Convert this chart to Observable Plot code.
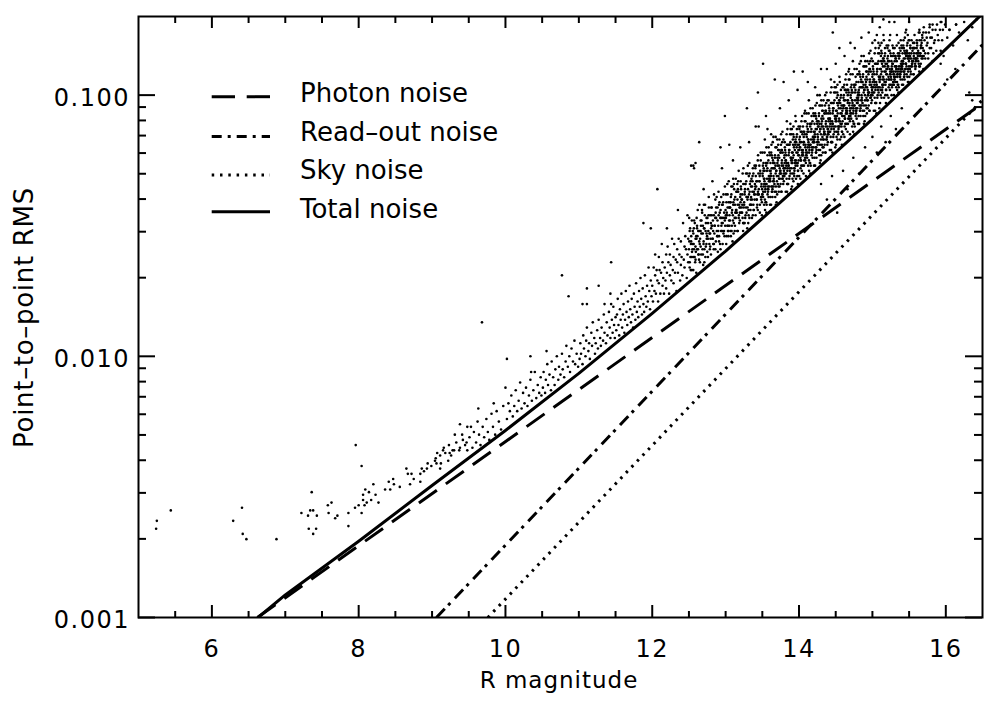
<!DOCTYPE html>
<html>
<head>
<meta charset="utf-8">
<script src="https://cdn.jsdelivr.net/npm/d3@7"></script>
<script src="https://cdn.jsdelivr.net/npm/@observablehq/plot@0.6"></script>
<style>
html,body{margin:0;padding:0;background:#fff;}
#chart{width:998px;height:704px;}
</style>
</head>
<body>
<div id="chart"></div>
<script>
// ---------- data ----------
const xMajorTicks = [6, 8, 10, 12, 14, 16];
const xMinorTicks = [5.5, 6.5, 7, 7.5, 8.5, 9, 9.5, 10.5, 11, 11.5, 12.5, 13, 13.5, 14.5, 15, 15.5];
const yMajorTicks = [0.001, 0.01, 0.1];
const yMajorLabels = ["0.001", "0.010", "0.100"];
const yMinorTicks = [0.002,0.003,0.004,0.005,0.006,0.007,0.008,0.009,0.02,0.03,0.04,0.05,0.06,0.07,0.08,0.09];

const photonMag = [6.62, 16.5];
const photonRms = [0.001, 0.093];
const readoutMag = [9.06, 16.5];
const readoutRms = [0.001, 0.156];
const skyMag = [9.76, 16.5];
const skyRms = [0.001, 0.096];
const totalMag = [6.63, 7, 8, 9, 10, 11, 12, 13, 14, 15, 16, 16.5];
const totalRms = [0.001, 0.00122, 0.00196, 0.0032, 0.0052, 0.0086, 0.0146, 0.0253, 0.045, 0.081, 0.150, 0.205];

const legendLabels = ["Photon noise", "Read\u2013out noise", "Sky noise", "Total noise"];

// stars: [R magnitude, log10(point-to-point RMS)]
const stars = [
[5.25,-2.63],[5.24,-2.66],[5.44,-2.59],[6.29,-2.63],[6.41,-2.58],[6.42,-2.68],[6.47,-2.7],[6.88,-2.7],
[7.22,-2.6],[7.31,-2.61],[7.34,-2.59],[7.38,-2.59],[7.36,-2.52],[7.43,-2.61],[7.32,-2.66],[7.42,-2.66],[7.38,-2.68],
[7.58,-2.57],[7.63,-2.56],[7.59,-2.6],[7.68,-2.62],[7.71,-2.61],[7.86,-2.6],[7.86,-2.65],[7.96,-2.34],[8.04,-2.42],
[7.95,-2.58],[8,-2.57],[8.04,-2.6],[8.09,-2.51],[8.06,-2.55],[8.14,-2.52],[8.08,-2.57],[8.06,-2.53],[8.11,-2.56],
[8.17,-2.55],[8.23,-2.53],[8.2,-2.49],[8.27,-2.56],[8.36,-2.51],[8.41,-2.48],[8.47,-2.47],[8.48,-2.49],[8.43,-2.51],
[8.56,-2.5],[8.65,-2.43],[8.67,-2.45],[8.72,-2.45],[8.75,-2.47],[8.7,-2.49],[8.84,-2.45],[8.86,-2.43],[8.89,-2.44],
[8.93,-2.43],[8.94,-2.41],[8.99,-2.42],[8.84,-2.48],[9.04,-2.4],[9.06,-2.41],[9.11,-2.43],[9.07,-2.37],[9.11,-2.38],
[9.15,-2.36],[9.16,-2.35],[9.23,-2.34],[9.24,-2.37],[9.28,-2.36],[9.26,-2.38],[9.31,-2.3],[9.3,-2.36],[9.38,-2.26],
[9.38,-2.35],[9.42,-2.32],[9.48,-2.27],[9.47,-2.33],[9.48,-2.36],
[9.05,-2.39],[9.12,-2.41],[9.18,-2.37],[9.22,-2.4],[9.33,-2.33],[9.37,-2.36],[9.41,-2.3],[9.45,-2.34],
[9.51,-2.31],[9.53,-2.27],[9.55,-2.35],[9.57,-2.29],[9.6,-2.33],[9.62,-2.25],[9.64,-2.3],[9.66,-2.34],[9.69,-2.27],[9.71,-2.31],
[9.74,-2.24],[9.76,-2.29],[9.78,-2.32],[9.81,-2.22],[9.83,-2.27],[9.86,-2.3],[9.88,-2.21],[9.91,-2.25],[9.94,-2.28],[9.97,-2.19],
[9.63,-2.2],[9.84,-2.18],[9.68,-1.87],[10,-2.12],[10.02,-2.01],
[10.02,-2.24],[10.04,-2.18],[10.06,-2.21],[10.08,-2.15],[10.1,-2.23],[10.12,-2.19],[10.14,-2.13],[10.16,-2.21],[10.18,-2.17],
[10.2,-2.1],[10.22,-2.2],[10.24,-2.14],[10.26,-2.18],[10.28,-2.12],[10.3,-2.19],[10.32,-2.15],[10.34,-2.09],[10.36,-2.17],
[10.38,-2.13],[10.4,-2.06],[10.42,-2.16],[10.44,-2.11],[10.46,-2.14],[10.48,-2.08],[10.49,-2.15],
[10.34,-2],[10.35,-2.06],[10.56,-1.98],
[10.51,-2.12],[10.52,-2.06],[10.54,-2.14],[10.55,-2.09],[10.57,-2.03],[10.58,-2.11],[10.6,-2.07],[10.62,-2.13],[10.63,-2.02],
[10.65,-2.08],[10.67,-2.11],[10.68,-2.05],[10.7,-2],[10.72,-2.09],[10.73,-2.04],[10.75,-2.07],[10.77,-1.99],[10.78,-2.05],
[10.8,-2.08],[10.82,-2.02],[10.83,-1.96],[10.85,-2.04],[10.87,-2],[10.88,-2.06],[10.9,-1.97],[10.92,-2.02],[10.94,-1.94],
[10.95,-2.03],[10.97,-1.99],[10.99,-2.04],
[10.77,-1.69],[10.86,-1.77],
[11.01,-2.01],[11.02,-1.95],[11.03,-1.99],[11.05,-2.03],[11.06,-1.92],[11.07,-1.97],[11.09,-2],[11.1,-1.94],[11.11,-1.89],
[11.13,-1.98],[11.14,-1.95],[11.15,-2.01],[11.17,-1.91],[11.18,-1.96],[11.19,-1.87],[11.21,-1.93],[11.22,-1.99],[11.23,-1.95],
[11.25,-1.9],[11.26,-1.97],[11.27,-1.86],[11.29,-1.93],[11.3,-1.96],[11.31,-1.89],[11.33,-1.94],[11.34,-1.84],[11.35,-1.91],
[11.37,-1.95],[11.38,-1.87],[11.39,-1.92],[11.41,-1.83],[11.42,-1.89],[11.43,-1.93],[11.45,-1.86],[11.46,-1.91],[11.47,-1.81],
[11.48,-1.88],[11.49,-1.93],[11.5,-1.85],[11.44,-1.8],
[11.05,-1.8],[11.11,-1.8],[11.11,-1.74],[11.27,-1.73],[11.44,-1.64],[11.43,-1.76],[11.35,-1.8],
[11.51,-1.9],[11.52,-1.84],[11.53,-1.78],[11.54,-1.88],[11.55,-1.92],[11.56,-1.82],[11.57,-1.86],[11.58,-1.76],[11.59,-1.89],
[11.6,-1.84],[11.61,-1.8],[11.62,-1.91],[11.63,-1.86],[11.64,-1.75],[11.65,-1.83],[11.66,-1.88],[11.67,-1.79],[11.68,-1.85],
[11.69,-1.73],[11.7,-1.82],[11.71,-1.87],[11.72,-1.78],[11.73,-1.84],[11.74,-1.89],[11.75,-1.76],[11.76,-1.81],[11.77,-1.86],
[11.78,-1.72],[11.79,-1.83],[11.8,-1.79],[11.81,-1.85],[11.82,-1.75],[11.83,-1.81],[11.84,-1.7],[11.85,-1.78],[11.86,-1.84],
[11.87,-1.74],[11.88,-1.8],[11.89,-1.83],[11.9,-1.69],[11.91,-1.77],[11.92,-1.81],[11.93,-1.73],[11.94,-1.79],[11.95,-1.66],
[11.96,-1.75],[11.97,-1.82],[11.98,-1.71],[11.99,-1.77],
[11.88,-1.49],[11.98,-1.51],
[12,-1.73],[12.01,-1.79],[12.02,-1.66],[12.03,-1.75],[12.04,-1.69],[12.04,-1.61],[12.05,-1.76],[12.06,-1.67],[12.07,-1.71],
[12.08,-1.79],[12.09,-1.62],[12.09,-1.72],[12.1,-1.67],[12.11,-1.76],[12.12,-1.68],[12.13,-1.57],[12.14,-1.73],[12.14,-1.64],
[12.15,-1.7],[12.16,-1.76],[12.17,-1.66],[12.18,-1.71],[12.19,-1.61],[12.19,-1.74],[12.2,-1.68],[12.21,-1.58],[12.22,-1.64],
[12.23,-1.76],[12.24,-1.69],[12.24,-1.61],[12.25,-1.65],[12.26,-1.71],[12.27,-1.55],[12.28,-1.67],[12.29,-1.62],[12.29,-1.72],
[12.3,-1.57],[12.31,-1.68],[12.32,-1.63],[12.33,-1.75],[12.34,-1.59],[12.34,-1.64],[12.35,-1.68],[12.36,-1.55],[12.37,-1.61],
[12.38,-1.71],[12.39,-1.65],[12.39,-1.56],[12.4,-1.62],[12.41,-1.69],[12.42,-1.49],[12.43,-1.63],[12.44,-1.58],[12.44,-1.66],
[12.45,-1.54],[12.46,-1.59],[12.47,-1.7],[12.48,-1.61],[12.49,-1.55],[12.49,-1.64],
[12.07,-1.36],[12.2,-1.51],[12.35,-1.44],[12.48,-1.46],[12.53,-1.27],[12.59,-1.26],[12.57,-1.28],
[12.5,-1.59],[12.51,-1.66],[12.51,-1.52],[12.52,-1.62],[12.53,-1.56],[12.54,-1.48],[12.54,-1.67],[12.55,-1.57],[12.56,-1.62],
[12.56,-1.53],[12.57,-1.59],[12.58,-1.49],[12.59,-1.63],[12.59,-1.55],[12.6,-1.68],[12.61,-1.51],[12.61,-1.59],[12.62,-1.44],
[12.63,-1.61],[12.64,-1.52],[12.64,-1.56],[12.65,-1.64],[12.66,-1.48],[12.66,-1.58],[12.67,-1.53],[12.68,-1.45],[12.69,-1.61],
[12.69,-1.5],[12.7,-1.56],[12.71,-1.64],[12.71,-1.51],[12.72,-1.42],[12.73,-1.58],[12.74,-1.53],[12.74,-1.47],[12.75,-1.6],
[12.76,-1.55],[12.76,-1.49],[12.77,-1.39],[12.78,-1.53],[12.79,-1.58],[12.79,-1.46],[12.8,-1.61],[12.81,-1.5],[12.81,-1.43],
[12.82,-1.55],[12.83,-1.52],[12.84,-1.46],[12.84,-1.57],[12.85,-1.5],[12.86,-1.4],[12.86,-1.59],[12.87,-1.47],[12.88,-1.52],
[12.89,-1.43],[12.89,-1.54],[12.9,-1.5],[12.91,-1.42],[12.91,-1.56],[12.92,-1.45],[12.93,-1.59],[12.94,-1.47],[12.94,-1.39],
[12.95,-1.52],[12.96,-1.42],[12.96,-1.49],[12.97,-1.53],[12.98,-1.45],[12.99,-1.35],[12.99,-1.47],
[12.524,-1.67],[12.505,-1.56],[12.538,-1.62],[12.516,-1.51],[12.547,-1.59],[12.511,-1.64],[12.531,-1.54],[12.542,-1.6],[12.503,-1.47],[12.527,-1.57],
[12.564,-1.57],[12.585,-1.64],[12.552,-1.52],[12.594,-1.6],[12.571,-1.48],[12.559,-1.67],[12.599,-1.54],[12.578,-1.62],[12.567,-1.51],[12.589,-1.58],
[12.624,-1.59],[12.605,-1.47],[12.638,-1.63],[12.616,-1.54],[12.647,-1.57],[12.611,-1.5],[12.631,-1.61],[12.642,-1.42],[12.603,-1.55],[12.627,-1.52],
[12.664,-1.5],[12.685,-1.59],[12.652,-1.55],[12.694,-1.65],[12.671,-1.48],[12.659,-1.52],[12.699,-1.57],[12.678,-1.44],[12.667,-1.61],[12.689,-1.53],
[12.724,-1.62],[12.705,-1.51],[12.738,-1.57],[12.716,-1.46],[12.747,-1.54],[12.711,-1.59],[12.731,-1.49],[12.742,-1.55],[12.703,-1.42],[12.727,-1.52],
[12.764,-1.52],[12.785,-1.59],[12.752,-1.47],[12.794,-1.55],[12.771,-1.43],[12.759,-1.62],[12.799,-1.49],[12.778,-1.57],[12.767,-1.46],[12.789,-1.53],
[12.824,-1.55],[12.805,-1.43],[12.838,-1.59],[12.816,-1.5],[12.847,-1.53],[12.811,-1.46],[12.831,-1.57],[12.842,-1.38],[12.803,-1.51],[12.827,-1.48],
[12.864,-1.45],[12.885,-1.54],[12.852,-1.5],[12.894,-1.6],[12.871,-1.43],[12.859,-1.47],[12.899,-1.52],[12.878,-1.39],[12.867,-1.56],[12.889,-1.48],
[12.924,-1.57],[12.905,-1.46],[12.938,-1.52],[12.916,-1.41],[12.947,-1.49],[12.911,-1.54],[12.931,-1.44],[12.942,-1.5],[12.903,-1.37],[12.927,-1.47],
[12.964,-1.47],[12.985,-1.54],[12.952,-1.42],[12.994,-1.5],[12.971,-1.38],[12.959,-1.57],[12.999,-1.44],[12.978,-1.52],[12.967,-1.41],[12.989,-1.48],
[13.004,-1.47],[13.013,-1.54],[13.027,-1.38],[13.032,-1.5],[13.046,-1.43],[13.008,-1.57],[13.019,-1.46],[13.023,-1.34],[13.038,-1.52],[13.041,-1.41],
[13.052,-1.5],[13.066,-1.41],[13.071,-1.54],[13.085,-1.45],[13.094,-1.35],[13.059,-1.48],[13.061,-1.43],[13.078,-1.38],[13.081,-1.52],[13.098,-1.46],
[13.104,-1.42],[13.113,-1.34],[13.127,-1.5],[13.132,-1.45],[13.146,-1.37],[13.108,-1.53],[13.119,-1.4],[13.123,-1.47],[13.138,-1.32],[13.141,-1.44],
[13.152,-1.45],[13.166,-1.52],[13.171,-1.37],[13.185,-1.42],[13.194,-1.48],[13.159,-1.34],[13.161,-1.4],[13.178,-1.29],[13.181,-1.46],[13.198,-1.43],
[13.204,-1.38],[13.213,-1.45],[13.227,-1.42],[13.232,-1.3],[13.246,-1.49],[13.208,-1.35],[13.219,-1.43],[13.223,-1.4],[13.238,-1.52],[13.241,-1.34],
[13.252,-1.42],[13.266,-1.34],[13.271,-1.46],[13.285,-1.39],[13.294,-1.3],[13.259,-1.49],[13.261,-1.37],[13.278,-1.43],[13.281,-1.33],[13.298,-1.4],
[13.304,-1.39],[13.313,-1.46],[13.327,-1.3],[13.332,-1.42],[13.346,-1.35],[13.308,-1.49],[13.319,-1.38],[13.323,-1.26],[13.338,-1.44],[13.341,-1.33],
[13.352,-1.42],[13.366,-1.33],[13.371,-1.46],[13.385,-1.37],[13.394,-1.27],[13.359,-1.4],[13.361,-1.35],[13.378,-1.3],[13.381,-1.44],[13.398,-1.38],
[13.404,-1.35],[13.413,-1.27],[13.427,-1.43],[13.432,-1.38],[13.446,-1.3],[13.408,-1.46],[13.419,-1.33],[13.423,-1.4],[13.438,-1.25],[13.441,-1.37],
[13.452,-1.38],[13.466,-1.45],[13.471,-1.3],[13.485,-1.35],[13.494,-1.41],[13.459,-1.27],[13.461,-1.33],[13.478,-1.22],[13.481,-1.39],[13.498,-1.36],
[13.024,-1.5],[13.005,-1.38],[13.038,-1.54],[13.016,-1.45],[13.047,-1.48],[13.011,-1.41],[13.031,-1.52],[13.042,-1.33],[13.003,-1.46],[13.027,-1.43],
[13.064,-1.41],[13.085,-1.5],[13.052,-1.46],[13.094,-1.56],[13.071,-1.39],[13.059,-1.43],[13.099,-1.48],[13.078,-1.35],[13.067,-1.52],[13.089,-1.44],
[13.124,-1.52],[13.105,-1.41],[13.138,-1.47],[13.116,-1.36],[13.147,-1.44],[13.111,-1.49],[13.131,-1.39],[13.142,-1.45],[13.103,-1.32],[13.127,-1.42],
[13.164,-1.42],[13.185,-1.49],[13.152,-1.37],[13.194,-1.45],[13.171,-1.33],[13.159,-1.52],[13.199,-1.39],[13.178,-1.47],[13.167,-1.36],[13.189,-1.43],
[13.224,-1.45],[13.205,-1.33],[13.238,-1.49],[13.216,-1.4],[13.247,-1.43],[13.211,-1.36],[13.231,-1.47],[13.242,-1.28],[13.203,-1.41],[13.227,-1.38],
[13.264,-1.36],[13.285,-1.45],[13.252,-1.41],[13.294,-1.51],[13.271,-1.34],[13.259,-1.38],[13.299,-1.43],[13.278,-1.3],[13.267,-1.47],[13.289,-1.39],
[13.324,-1.47],[13.305,-1.36],[13.338,-1.42],[13.316,-1.31],[13.347,-1.39],[13.311,-1.44],[13.331,-1.34],[13.342,-1.4],[13.303,-1.27],[13.327,-1.37],
[13.364,-1.37],[13.385,-1.44],[13.352,-1.32],[13.394,-1.4],[13.371,-1.28],[13.359,-1.47],[13.399,-1.34],[13.378,-1.42],[13.367,-1.31],[13.389,-1.38],
[13.424,-1.4],[13.405,-1.28],[13.438,-1.44],[13.416,-1.35],[13.447,-1.38],[13.411,-1.31],[13.431,-1.42],[13.442,-1.23],[13.403,-1.36],[13.427,-1.33],
[13.464,-1.31],[13.485,-1.4],[13.452,-1.36],[13.494,-1.46],[13.471,-1.29],[13.459,-1.33],[13.499,-1.38],[13.478,-1.25],[13.467,-1.42],[13.489,-1.34],
[13.503,-1.3],[13.512,-1.37],[13.526,-1.34],[13.531,-1.22],[13.544,-1.41],[13.507,-1.27],[13.518,-1.35],[13.522,-1.32],[13.537,-1.44],[13.548,-1.26],[13.501,-1.38],[13.515,-1.29],[13.529,-1.33],[13.534,-1.17],[13.541,-1.36],
[13.558,-1.34],[13.566,-1.26],[13.571,-1.38],[13.589,-1.31],[13.596,-1.22],[13.552,-1.41],[13.563,-1.29],[13.577,-1.35],[13.583,-1.25],[13.592,-1.32],[13.555,-1.45],[13.569,-1.28],[13.574,-1.36],[13.586,-1.2],[13.599,-1.33],
[13.606,-1.32],[13.611,-1.39],[13.628,-1.23],[13.635,-1.35],[13.643,-1.28],[13.604,-1.42],[13.617,-1.31],[13.624,-1.19],[13.632,-1.37],[13.647,-1.26],[13.609,-1.33],[13.614,-1.29],[13.621,-1.22],[13.638,-1.36],[13.645,-1.25],
[13.653,-1.35],[13.662,-1.26],[13.676,-1.39],[13.681,-1.3],[13.694,-1.2],[13.657,-1.33],[13.668,-1.28],[13.672,-1.23],[13.687,-1.37],[13.698,-1.31],[13.651,-1.16],[13.665,-1.34],[13.679,-1.27],[13.684,-1.42],[13.691,-1.29],
[13.708,-1.27],[13.716,-1.19],[13.721,-1.35],[13.739,-1.3],[13.746,-1.22],[13.702,-1.38],[13.713,-1.25],[13.727,-1.32],[13.733,-1.17],[13.742,-1.29],[13.705,-1.24],[13.719,-1.31],[13.724,-1.21],[13.736,-1.28],[13.749,-1.34],
[13.756,-1.3],[13.761,-1.37],[13.778,-1.22],[13.785,-1.27],[13.793,-1.33],[13.754,-1.19],[13.767,-1.25],[13.774,-1.14],[13.782,-1.31],[13.797,-1.28],[13.759,-1.21],[13.764,-1.26],[13.771,-1.32],[13.788,-1.17],[13.795,-1.29],
[13.803,-1.23],[13.812,-1.3],[13.826,-1.27],[13.831,-1.15],[13.844,-1.34],[13.807,-1.2],[13.818,-1.28],[13.822,-1.25],[13.837,-1.37],[13.848,-1.19],[13.801,-1.31],[13.815,-1.22],[13.829,-1.26],[13.834,-1.1],[13.841,-1.29],
[13.858,-1.27],[13.866,-1.19],[13.871,-1.31],[13.889,-1.24],[13.896,-1.15],[13.852,-1.34],[13.863,-1.22],[13.877,-1.28],[13.883,-1.18],[13.892,-1.25],[13.855,-1.38],[13.869,-1.21],[13.874,-1.29],[13.886,-1.13],[13.899,-1.26],
[13.906,-1.25],[13.911,-1.32],[13.928,-1.16],[13.935,-1.28],[13.943,-1.21],[13.904,-1.35],[13.917,-1.24],[13.924,-1.12],[13.932,-1.3],[13.947,-1.19],[13.909,-1.26],[13.914,-1.22],[13.921,-1.15],[13.938,-1.29],[13.945,-1.18],
[13.953,-1.27],[13.962,-1.18],[13.976,-1.31],[13.981,-1.22],[13.994,-1.12],[13.957,-1.25],[13.968,-1.2],[13.972,-1.15],[13.987,-1.29],[13.998,-1.23],[13.951,-1.08],[13.965,-1.26],[13.979,-1.19],[13.984,-1.34],[13.991,-1.21],
[14.008,-1.2],[14.016,-1.12],[14.021,-1.28],[14.039,-1.23],[14.046,-1.15],[14.002,-1.31],[14.013,-1.18],[14.027,-1.25],[14.033,-1.1],[14.042,-1.22],[14.005,-1.17],[14.019,-1.24],[14.024,-1.14],[14.036,-1.21],[14.049,-1.27],
[14.056,-1.23],[14.061,-1.3],[14.078,-1.15],[14.085,-1.2],[14.093,-1.26],[14.054,-1.12],[14.067,-1.18],[14.074,-1.07],[14.082,-1.24],[14.097,-1.21],[14.059,-1.14],[14.064,-1.19],[14.071,-1.25],[14.088,-1.1],[14.095,-1.22],
[14.103,-1.15],[14.112,-1.22],[14.126,-1.19],[14.131,-1.07],[14.144,-1.26],[14.107,-1.12],[14.118,-1.2],[14.122,-1.17],[14.137,-1.29],[14.148,-1.11],[14.101,-1.23],[14.115,-1.14],[14.129,-1.18],[14.134,-1.02],[14.141,-1.21],
[14.158,-1.19],[14.166,-1.11],[14.171,-1.23],[14.189,-1.16],[14.196,-1.07],[14.152,-1.26],[14.163,-1.14],[14.177,-1.2],[14.183,-1.1],[14.192,-1.17],[14.155,-1.3],[14.169,-1.13],[14.174,-1.21],[14.186,-1.05],[14.199,-1.18],
[14.206,-1.17],[14.211,-1.24],[14.228,-1.08],[14.235,-1.2],[14.243,-1.13],[14.204,-1.27],[14.217,-1.16],[14.224,-1.04],[14.232,-1.22],[14.247,-1.11],[14.209,-1.18],[14.214,-1.14],[14.221,-1.07],[14.238,-1.21],[14.245,-1.1],
[14.253,-1.19],[14.262,-1.1],[14.276,-1.23],[14.281,-1.14],[14.294,-1.04],[14.257,-1.17],[14.268,-1.12],[14.272,-1.07],[14.287,-1.21],[14.298,-1.15],[14.251,-1],[14.265,-1.18],[14.279,-1.11],[14.284,-1.26],[14.291,-1.13],
[14.308,-1.12],[14.316,-1.04],[14.321,-1.2],[14.339,-1.15],[14.346,-1.07],[14.302,-1.23],[14.313,-1.1],[14.327,-1.17],[14.333,-1.02],[14.342,-1.14],[14.305,-1.09],[14.319,-1.16],[14.324,-1.06],[14.336,-1.13],[14.349,-1.19],
[14.356,-1.15],[14.361,-1.22],[14.378,-1.07],[14.385,-1.12],[14.393,-1.18],[14.354,-1.04],[14.367,-1.1],[14.374,-0.99],[14.382,-1.16],[14.397,-1.13],[14.359,-1.06],[14.364,-1.11],[14.371,-1.17],[14.388,-1.02],[14.395,-1.14],
[14.403,-1.07],[14.412,-1.14],[14.426,-1.11],[14.431,-0.99],[14.444,-1.18],[14.407,-1.04],[14.418,-1.12],[14.422,-1.09],[14.437,-1.21],[14.448,-1.03],[14.401,-1.15],[14.415,-1.06],[14.429,-1.1],[14.434,-0.94],[14.441,-1.13],
[14.458,-1.11],[14.466,-1.03],[14.471,-1.15],[14.489,-1.08],[14.496,-0.99],[14.452,-1.18],[14.463,-1.06],[14.477,-1.12],[14.483,-1.02],[14.492,-1.09],[14.455,-1.22],[14.469,-1.05],[14.474,-1.13],[14.486,-0.97],[14.499,-1.1],
[14.506,-1.09],[14.511,-1.16],[14.528,-1],[14.535,-1.12],[14.543,-1.05],[14.504,-1.19],[14.517,-1.08],[14.524,-0.96],[14.532,-1.14],[14.547,-1.03],[14.509,-1.1],[14.514,-1.06],[14.521,-0.99],[14.538,-1.13],[14.545,-1.02],
[14.553,-1.12],[14.562,-1.03],[14.576,-1.16],[14.581,-1.07],[14.594,-0.97],[14.557,-1.1],[14.568,-1.05],[14.572,-1],[14.587,-1.14],[14.598,-1.08],[14.551,-0.93],[14.565,-1.11],[14.579,-1.04],[14.584,-1.19],[14.591,-1.06],
[14.608,-1.04],[14.616,-0.96],[14.621,-1.12],[14.639,-1.07],[14.646,-0.99],[14.602,-1.15],[14.613,-1.02],[14.627,-1.09],[14.633,-0.94],[14.642,-1.06],[14.605,-1.01],[14.619,-1.08],[14.624,-0.98],[14.636,-1.05],[14.649,-1.11],
[14.656,-1.07],[14.661,-1.14],[14.678,-0.99],[14.685,-1.04],[14.693,-1.1],[14.654,-0.96],[14.667,-1.02],[14.674,-0.91],[14.682,-1.08],[14.697,-1.05],[14.659,-0.98],[14.664,-1.03],[14.671,-1.09],[14.688,-0.94],[14.695,-1.06],
[14.703,-1],[14.712,-1.07],[14.726,-1.04],[14.731,-0.92],[14.744,-1.11],[14.707,-0.97],[14.718,-1.05],[14.722,-1.02],[14.737,-1.14],[14.748,-0.96],[14.701,-1.08],[14.715,-0.99],[14.729,-1.03],[14.734,-0.87],[14.741,-1.06],
[14.758,-1.04],[14.766,-0.96],[14.771,-1.08],[14.789,-1.01],[14.796,-0.92],[14.752,-1.11],[14.763,-0.99],[14.777,-1.05],[14.783,-0.95],[14.792,-1.02],[14.755,-1.15],[14.769,-0.98],[14.774,-1.06],[14.786,-0.9],[14.799,-1.03],
[14.806,-1.01],[14.811,-1.08],[14.828,-0.92],[14.835,-1.04],[14.843,-0.97],[14.804,-1.11],[14.817,-1],[14.824,-0.88],[14.832,-1.06],[14.847,-0.95],[14.809,-1.02],[14.814,-0.98],[14.821,-0.91],[14.838,-1.05],[14.845,-0.94],
[14.853,-1.04],[14.862,-0.95],[14.876,-1.08],[14.881,-0.99],[14.894,-0.89],[14.857,-1.02],[14.868,-0.97],[14.872,-0.92],[14.887,-1.06],[14.898,-1],[14.851,-0.85],[14.865,-1.03],[14.879,-0.96],[14.884,-1.11],[14.891,-0.98],
[14.908,-0.97],[14.916,-0.89],[14.921,-1.05],[14.939,-1],[14.946,-0.92],[14.902,-1.08],[14.913,-0.95],[14.927,-1.02],[14.933,-0.87],[14.942,-0.99],[14.905,-0.94],[14.919,-1.01],[14.924,-0.91],[14.936,-0.98],[14.949,-1.04],
[14.956,-0.99],[14.961,-1.06],[14.978,-0.91],[14.985,-0.96],[14.993,-1.02],[14.954,-0.88],[14.967,-0.94],[14.974,-0.83],[14.982,-1],[14.997,-0.97],[14.959,-0.9],[14.964,-0.95],[14.971,-1.01],[14.988,-0.86],[14.995,-0.98],
[15.003,-0.92],[15.012,-0.99],[15.026,-0.96],[15.031,-0.84],[15.044,-1.03],[15.007,-0.89],[15.018,-0.97],[15.022,-0.94],[15.037,-1.06],[15.048,-0.88],[15.001,-1],[15.015,-0.91],[15.029,-0.95],[15.034,-0.79],[15.041,-0.98],
[15.058,-0.96],[15.066,-0.88],[15.071,-1],[15.089,-0.93],[15.096,-0.84],[15.052,-1.03],[15.063,-0.91],[15.077,-0.97],[15.083,-0.87],[15.092,-0.94],[15.055,-1.07],[15.069,-0.9],[15.074,-0.98],[15.086,-0.82],[15.099,-0.95],
[15.106,-0.93],[15.111,-1],[15.128,-0.84],[15.135,-0.96],[15.143,-0.89],[15.104,-1.03],[15.117,-0.92],[15.124,-0.8],[15.132,-0.98],[15.147,-0.87],[15.109,-0.94],[15.114,-0.9],[15.121,-0.83],[15.138,-0.97],[15.145,-0.86],
[15.153,-0.96],[15.162,-0.87],[15.176,-1],[15.181,-0.91],[15.194,-0.81],[15.157,-0.94],[15.168,-0.89],[15.172,-0.84],[15.187,-0.98],[15.198,-0.92],[15.151,-0.77],[15.165,-0.95],[15.179,-0.88],[15.184,-1.03],[15.191,-0.9],
[15.208,-0.89],[15.216,-0.81],[15.221,-0.97],[15.239,-0.92],[15.246,-0.84],[15.202,-1],[15.213,-0.87],[15.227,-0.94],[15.233,-0.79],[15.242,-0.91],[15.205,-0.86],[15.219,-0.93],[15.224,-0.83],[15.236,-0.9],[15.249,-0.96],
[15.256,-0.94],[15.261,-1],[15.278,-0.88],[15.285,-0.92],[15.293,-0.96],[15.254,-0.85],[15.267,-0.9],[15.274,-0.81],[15.282,-0.95],[15.297,-0.92],[15.259,-0.87],[15.264,-0.91],[15.271,-0.96],[15.288,-0.84],[15.295,-0.93],
[15.303,-0.87],[15.312,-0.93],[15.326,-0.9],[15.331,-0.81],[15.344,-0.96],[15.307,-0.85],[15.318,-0.91],[15.322,-0.89],[15.337,-0.98],[15.348,-0.84],[15.301,-0.94],[15.315,-0.86],[15.329,-0.9],[15.334,-0.77],[15.341,-0.92],
[15.358,-0.9],[15.366,-0.84],[15.371,-0.93],[15.389,-0.88],[15.396,-0.81],[15.352,-0.96],[15.363,-0.86],[15.377,-0.91],[15.383,-0.83],[15.392,-0.89],[15.355,-0.99],[15.369,-0.85],[15.374,-0.92],[15.386,-0.79],[15.399,-0.89],
[15.406,-0.89],[15.411,-0.94],[15.428,-0.82],[15.435,-0.91],[15.443,-0.86],[15.404,-0.96],[15.417,-0.88],[15.424,-0.79],[15.432,-0.93],[15.447,-0.84],[15.409,-0.9],[15.414,-0.87],[15.421,-0.81],[15.438,-0.92],[15.445,-0.84],
[15.453,-0.9],[15.462,-0.83],[15.476,-0.93],[15.481,-0.86],[15.494,-0.79],[15.457,-0.88],[15.468,-0.85],[15.472,-0.81],[15.487,-0.91],[15.498,-0.87],[15.451,-0.76],[15.465,-0.89],[15.479,-0.84],[15.484,-0.95],[15.491,-0.85],
[13.524,-1.42],[13.505,-1.31],[13.538,-1.37],[13.516,-1.26],[13.547,-1.34],[13.511,-1.39],[13.531,-1.29],[13.542,-1.35],[13.503,-1.22],[13.527,-1.32],[13.519,-1.28],[13.535,-1.4],
[13.564,-1.32],[13.585,-1.39],[13.552,-1.27],[13.594,-1.35],[13.571,-1.23],[13.559,-1.42],[13.599,-1.29],[13.578,-1.37],[13.567,-1.26],[13.589,-1.33],[13.556,-1.2],[13.582,-1.36],
[13.624,-1.35],[13.605,-1.23],[13.638,-1.39],[13.616,-1.3],[13.647,-1.33],[13.611,-1.26],[13.631,-1.37],[13.642,-1.18],[13.603,-1.31],[13.627,-1.28],[13.619,-1.42],[13.635,-1.24],
[13.664,-1.26],[13.685,-1.35],[13.652,-1.31],[13.694,-1.41],[13.671,-1.24],[13.659,-1.28],[13.699,-1.33],[13.678,-1.2],[13.667,-1.37],[13.689,-1.29],[13.656,-1.32],[13.682,-1.16],
[13.724,-1.37],[13.705,-1.26],[13.738,-1.32],[13.716,-1.21],[13.747,-1.29],[13.711,-1.34],[13.731,-1.24],[13.742,-1.3],[13.703,-1.17],[13.727,-1.27],[13.719,-1.23],[13.735,-1.35],
[13.764,-1.27],[13.785,-1.34],[13.752,-1.22],[13.794,-1.3],[13.771,-1.18],[13.759,-1.37],[13.799,-1.24],[13.778,-1.32],[13.767,-1.21],[13.789,-1.28],[13.756,-1.15],[13.782,-1.31],
[13.824,-1.3],[13.805,-1.18],[13.838,-1.34],[13.816,-1.25],[13.847,-1.28],[13.811,-1.21],[13.831,-1.32],[13.842,-1.13],[13.803,-1.26],[13.827,-1.23],[13.819,-1.37],[13.835,-1.19],
[13.864,-1.21],[13.885,-1.3],[13.852,-1.26],[13.894,-1.36],[13.871,-1.19],[13.859,-1.23],[13.899,-1.28],[13.878,-1.15],[13.867,-1.32],[13.889,-1.24],[13.856,-1.27],[13.882,-1.11],
[13.924,-1.33],[13.905,-1.22],[13.938,-1.28],[13.916,-1.17],[13.947,-1.25],[13.911,-1.3],[13.931,-1.2],[13.942,-1.26],[13.903,-1.13],[13.927,-1.23],[13.919,-1.19],[13.935,-1.31],
[13.964,-1.22],[13.985,-1.29],[13.952,-1.17],[13.994,-1.25],[13.971,-1.13],[13.959,-1.32],[13.999,-1.19],[13.978,-1.27],[13.967,-1.16],[13.989,-1.23],[13.956,-1.1],[13.982,-1.26],
[14.024,-1.25],[14.005,-1.13],[14.038,-1.29],[14.016,-1.2],[14.047,-1.23],[14.011,-1.16],[14.031,-1.27],[14.042,-1.08],[14.003,-1.21],[14.027,-1.18],[14.019,-1.32],[14.035,-1.14],
[14.064,-1.16],[14.085,-1.25],[14.052,-1.21],[14.094,-1.31],[14.071,-1.14],[14.059,-1.18],[14.099,-1.23],[14.078,-1.1],[14.067,-1.27],[14.089,-1.19],[14.056,-1.22],[14.082,-1.06],
[14.124,-1.27],[14.105,-1.16],[14.138,-1.22],[14.116,-1.11],[14.147,-1.19],[14.111,-1.24],[14.131,-1.14],[14.142,-1.2],[14.103,-1.07],[14.127,-1.17],[14.119,-1.13],[14.135,-1.25],
[14.164,-1.17],[14.185,-1.24],[14.152,-1.12],[14.194,-1.2],[14.171,-1.08],[14.159,-1.27],[14.199,-1.14],[14.178,-1.22],[14.167,-1.11],[14.189,-1.18],[14.156,-1.05],[14.182,-1.21],
[14.224,-1.2],[14.205,-1.08],[14.238,-1.24],[14.216,-1.15],[14.247,-1.18],[14.211,-1.11],[14.231,-1.22],[14.242,-1.03],[14.203,-1.16],[14.227,-1.13],[14.219,-1.27],[14.235,-1.09],
[14.264,-1.1],[14.285,-1.19],[14.252,-1.15],[14.294,-1.25],[14.271,-1.08],[14.259,-1.12],[14.299,-1.17],[14.278,-1.04],[14.267,-1.21],[14.289,-1.13],[14.256,-1.16],[14.282,-1],
[14.324,-1.22],[14.305,-1.11],[14.338,-1.17],[14.316,-1.06],[14.347,-1.14],[14.311,-1.19],[14.331,-1.09],[14.342,-1.15],[14.303,-1.02],[14.327,-1.12],[14.319,-1.08],[14.335,-1.2],
[14.364,-1.12],[14.385,-1.19],[14.352,-1.07],[14.394,-1.15],[14.371,-1.03],[14.359,-1.22],[14.399,-1.09],[14.378,-1.17],[14.367,-1.06],[14.389,-1.13],[14.356,-1],[14.382,-1.16],
[14.424,-1.14],[14.405,-1.02],[14.438,-1.18],[14.416,-1.09],[14.447,-1.12],[14.411,-1.05],[14.431,-1.16],[14.442,-0.97],[14.403,-1.1],[14.427,-1.07],[14.419,-1.21],[14.435,-1.03],
[14.464,-1.05],[14.485,-1.14],[14.452,-1.1],[14.494,-1.2],[14.471,-1.03],[14.459,-1.07],[14.499,-1.12],[14.478,-0.99],[14.467,-1.16],[14.489,-1.08],[14.456,-1.11],[14.482,-0.95],
[14.524,-1.17],[14.505,-1.06],[14.538,-1.12],[14.516,-1.01],[14.547,-1.09],[14.511,-1.14],[14.531,-1.04],[14.542,-1.1],[14.503,-0.97],[14.527,-1.07],[14.519,-1.03],[14.535,-1.15],
[14.564,-1.07],[14.585,-1.14],[14.552,-1.02],[14.594,-1.1],[14.571,-0.98],[14.559,-1.17],[14.599,-1.04],[14.578,-1.12],[14.567,-1.01],[14.589,-1.08],[14.556,-0.95],[14.582,-1.11],
[14.624,-1.09],[14.605,-0.97],[14.638,-1.13],[14.616,-1.04],[14.647,-1.07],[14.611,-1],[14.631,-1.11],[14.642,-0.92],[14.603,-1.05],[14.627,-1.02],[14.619,-1.16],[14.635,-0.98],
[14.664,-1],[14.685,-1.09],[14.652,-1.05],[14.694,-1.15],[14.671,-0.98],[14.659,-1.02],[14.699,-1.07],[14.678,-0.94],[14.667,-1.11],[14.689,-1.03],[14.656,-1.06],[14.682,-0.9],
[14.724,-1.12],[14.705,-1.01],[14.738,-1.07],[14.716,-0.96],[14.747,-1.04],[14.711,-1.09],[14.731,-0.99],[14.742,-1.05],[14.703,-0.92],[14.727,-1.02],[14.719,-0.98],[14.735,-1.1],
[14.764,-1.02],[14.785,-1.09],[14.752,-0.97],[14.794,-1.05],[14.771,-0.93],[14.759,-1.12],[14.799,-0.99],[14.778,-1.07],[14.767,-0.96],[14.789,-1.03],[14.756,-0.9],[14.782,-1.06],
[14.824,-1.04],[14.805,-0.92],[14.838,-1.08],[14.816,-0.99],[14.847,-1.02],[14.811,-0.95],[14.831,-1.06],[14.842,-0.87],[14.803,-1],[14.827,-0.97],[14.819,-1.11],[14.835,-0.93],
[14.864,-0.95],[14.885,-1.04],[14.852,-1],[14.894,-1.1],[14.871,-0.93],[14.859,-0.97],[14.899,-1.02],[14.878,-0.89],[14.867,-1.06],[14.889,-0.98],[14.856,-1.01],[14.882,-0.85],
[14.924,-1.07],[14.905,-0.96],[14.938,-1.02],[14.916,-0.91],[14.947,-0.99],[14.911,-1.04],[14.931,-0.94],[14.942,-1],[14.903,-0.87],[14.927,-0.97],[14.919,-0.93],[14.935,-1.05],
[14.964,-0.96],[14.985,-1.03],[14.952,-0.91],[14.994,-0.99],[14.971,-0.87],[14.959,-1.06],[14.999,-0.93],[14.978,-1.01],[14.967,-0.9],[14.989,-0.97],[14.956,-0.84],[14.982,-1],
[15.024,-0.99],[15.005,-0.87],[15.038,-1.03],[15.016,-0.94],[15.047,-0.97],[15.011,-0.9],[15.031,-1.01],[15.042,-0.82],[15.003,-0.95],[15.027,-0.92],[15.019,-1.06],[15.035,-0.88],
[15.064,-0.9],[15.085,-0.99],[15.052,-0.95],[15.094,-1.05],[15.071,-0.88],[15.059,-0.92],[15.099,-0.97],[15.078,-0.84],[15.067,-1.01],[15.089,-0.93],[15.056,-0.96],[15.082,-0.8],
[15.124,-1.01],[15.105,-0.9],[15.138,-0.96],[15.116,-0.85],[15.147,-0.93],[15.111,-0.98],[15.131,-0.88],[15.142,-0.94],[15.103,-0.81],[15.127,-0.91],[15.119,-0.87],[15.135,-0.99],
[15.164,-0.91],[15.185,-0.98],[15.152,-0.86],[15.194,-0.94],[15.171,-0.82],[15.159,-1.01],[15.199,-0.88],[15.178,-0.96],[15.167,-0.85],[15.189,-0.92],[15.156,-0.79],[15.182,-0.95],
[15.224,-0.94],[15.205,-0.82],[15.238,-0.98],[15.216,-0.89],[15.247,-0.92],[15.211,-0.85],[15.231,-0.96],[15.242,-0.77],[15.203,-0.9],[15.227,-0.87],[15.219,-1.01],[15.235,-0.83],
[15.264,-0.89],[15.285,-0.96],[15.252,-0.93],[15.294,-1],[15.271,-0.88],[15.259,-0.91],[15.299,-0.94],[15.278,-0.85],[15.267,-0.97],[15.289,-0.91],[15.256,-0.94],[15.282,-0.82],
[15.324,-0.97],[15.305,-0.89],[15.338,-0.93],[15.316,-0.85],[15.347,-0.91],[15.311,-0.95],[15.331,-0.87],[15.342,-0.92],[15.303,-0.82],[15.327,-0.89],[15.319,-0.86],[15.335,-0.95],
[15.364,-0.89],[15.385,-0.94],[15.352,-0.85],[15.394,-0.91],[15.371,-0.82],[15.359,-0.97],[15.399,-0.87],[15.378,-0.93],[15.367,-0.85],[15.389,-0.9],[15.356,-0.8],[15.382,-0.92],
[15.424,-0.91],[15.405,-0.82],[15.438,-0.94],[15.416,-0.87],[15.447,-0.9],[15.411,-0.84],[15.431,-0.93],[15.442,-0.78],[15.403,-0.88],[15.427,-0.86],[15.419,-0.96],[15.435,-0.83],
[15.464,-0.84],[15.485,-0.9],[15.452,-0.88],[15.494,-0.95],[15.471,-0.83],[15.459,-0.85],[15.499,-0.89],[15.478,-0.8],[15.467,-0.92],[15.489,-0.86],[15.456,-0.88],[15.482,-0.77],
[15.524,-0.92],[15.505,-0.85],[15.538,-0.89],[15.516,-0.82],[15.547,-0.87],[15.511,-0.9],[15.531,-0.84],[15.542,-0.88],[15.503,-0.79],[15.527,-0.86],
[15.564,-0.86],[15.585,-0.9],[15.552,-0.82],[15.594,-0.87],[15.571,-0.8],[15.559,-0.92],[15.599,-0.84],[15.578,-0.89],[15.567,-0.82],[15.589,-0.86],
[15.624,-0.87],[15.605,-0.79],[15.638,-0.89],[15.616,-0.84],[15.647,-0.85],[15.611,-0.81],[15.631,-0.88],[15.642,-0.76],
[15.664,-0.81],[15.685,-0.86],[15.652,-0.84],[15.694,-0.9],[15.671,-0.8],[15.659,-0.82],[15.699,-0.85],[15.678,-0.77],
[15.508,-0.86],[15.516,-0.81],[15.521,-0.91],[15.539,-0.88],[15.546,-0.83],[15.502,-0.93],[15.513,-0.85],[15.527,-0.89],[15.533,-0.79],[15.542,-0.87],[15.505,-0.84],[15.519,-0.82],
[15.556,-0.87],[15.561,-0.92],[15.578,-0.82],[15.585,-0.86],[15.593,-0.89],[15.554,-0.8],[15.567,-0.84],[15.574,-0.77],[15.582,-0.88],[15.597,-0.86],[15.559,-0.82],[15.564,-0.85],
[15.604,-0.82],[15.613,-0.86],[15.627,-0.84],[15.632,-0.76],[15.646,-0.89],[15.608,-0.8],[15.619,-0.85],[15.623,-0.83],[15.638,-0.91],[15.641,-0.79],
[15.652,-0.84],[15.666,-0.79],[15.671,-0.86],[15.685,-0.82],[15.694,-0.76],[15.659,-0.88],[15.661,-0.81],[15.678,-0.85],[15.681,-0.78],[15.698,-0.83],
[15.7,-0.83],[15.71,-0.79],[15.72,-0.86],[15.73,-0.76],[15.74,-0.81],[15.7,-0.74],[15.72,-0.84],[15.74,-0.78],
[15.75,-0.8],[15.76,-0.84],[15.77,-0.76],[15.78,-0.82],[15.79,-0.78],[15.76,-0.86],[15.78,-0.74],
[15.8,-0.82],[15.81,-0.78],[15.82,-0.75],[15.83,-0.84],[15.84,-0.8],[15.82,-0.73],
[15.85,-0.79],[15.86,-0.75],[15.87,-0.83],[15.88,-0.73],[15.89,-0.77],
[15.9,-0.79],[15.92,-0.75],[15.93,-0.83],[15.94,-0.72],[15.95,-0.79],[15.96,-0.75],[15.97,-0.85],[15.99,-0.73],
[16.02,-0.78],[16.05,-0.75],[16.1,-0.81],[16.14,-0.73],[16.18,-0.76],[16.25,-0.72],[16.3,-0.79],[16.36,-0.74],[16.42,-0.71],[16.2,-0.77],
[15.82,-0.87],[15.93,-0.88],[16.13,-0.9],[16.02,-0.94],[16.32,-0.99],[16.36,-1.02],
[14.3,-1.34],[14.38,-1.4],[14.45,-1.31],[14.52,-1.45],[14.6,-1.29],[14.66,-1.36],[14.74,-1.24],[14.82,-1.3],[14.9,-1.2],
[15,-1.16],[15.06,-1.22],[15.12,-1.12],[15.18,-1.18],[15.25,-1.08],[15.32,-1.13],[15.4,-1.05],
[13.51,-0.88],[14.46,-0.76],[13.67,-0.94],[13.29,-1.05],[13.44,-0.99],[13.93,-0.91],[12.99,-1.08],[12.64,-1.18],[12.56,-1.27],
[12.93,-1.2],[13.05,-1.19],[13.41,-1.12],[13.57,-1.13],[13.79,-0.95],[14.05,-0.91],[14.3,-0.9],[14.55,-0.82],[14.76,-0.82],
[15,-0.8],[15.06,-0.77],[15.64,-0.75],[15.78,-0.73],[15.93,-0.72],[16.05,-0.75],[16.14,-0.73],[15.23,-0.72],[15.46,-0.75],
[12.7,-1.36],[12.82,-1.33],[12.95,-1.28],[13.1,-1.25],[13.2,-1.2],[13.32,-1.18],[13.45,-1.12],[13.55,-1.08],[13.62,-1.15],
[13.74,-1.05],[13.86,-1.02],[13.98,-0.98],[14.12,-0.95],[14.22,-0.97],[14.38,-0.9],[14.5,-0.88],[14.62,-0.85],[14.7,-0.8],
[14.85,-0.78],[14.95,-0.76],[15.1,-0.74],[15.3,-0.72],[15.5,-0.72],[15.15,-0.71]
];

// ---------- tables built from the arrays ----------
const toRows = (ms, rs) => ms.map((m, i) => ({mag: m, rms: rs[i]}));
const photon = toRows(photonMag, photonRms);
const readout = toRows(readoutMag, readoutRms);
const sky = toRows(skyMag, skyRms);
const total = toRows(totalMag, totalRms);
const starRows = stars.map(([m, l]) => ({mag: m, rms: Math.pow(10, l)}));

const W = 998, H = 704;
const mL = 138, mR = 16, mT = 16, mB = 87;
const innerW = W - mL - mR, innerH = H - mT - mB;
const FONT = "'DejaVu Sans', 'Liberation Sans', sans-serif";

const lineBase = {x: "mag", y: "rms", stroke: "#000", strokeWidth: 3, clip: true, strokeLinecap: "butt"};

const chart = Plot.plot({
  width: W, height: H,
  marginLeft: mL, marginRight: mR, marginTop: mT, marginBottom: mB,
  x: {domain: [5, 16.5], axis: null},
  y: {type: "log", domain: [0.001, 0.2], axis: null},
  style: {fontFamily: FONT, background: "#fff", color: "#000", letterSpacing: "1.5px"},
  marks: [
    Plot.dot(starRows, {x: "mag", y: "rms", r: 1.3, fill: "#000", stroke: "none", clip: true}),
    Plot.line(sky, {...lineBase, strokeDasharray: "2.5 5.5"}),
    Plot.line(readout, {...lineBase, strokeDasharray: "12 5 3 6.6"}),
    Plot.line(photon, {...lineBase, strokeDasharray: "22 11"}),
    Plot.line(total, {...lineBase}),
    // ticks, drawn inward on all four sides
    Plot.tickX(xMajorTicks, {x: d => d, stroke: "#000", strokeWidth: 2, insetTop: innerH - 12}),
    Plot.tickX(xMinorTicks, {x: d => d, stroke: "#000", strokeWidth: 2, insetTop: innerH - 6}),
    Plot.tickX(xMajorTicks, {x: d => d, stroke: "#000", strokeWidth: 2, insetBottom: innerH - 12}),
    Plot.tickX(xMinorTicks, {x: d => d, stroke: "#000", strokeWidth: 2, insetBottom: innerH - 7}),
    Plot.tickY(yMajorTicks, {y: d => d, stroke: "#000", strokeWidth: 2, insetRight: innerW - 17}),
    Plot.tickY(yMinorTicks, {y: d => d, stroke: "#000", strokeWidth: 2, insetRight: innerW - 8}),
    Plot.tickY(yMajorTicks, {y: d => d, stroke: "#000", strokeWidth: 2, insetLeft: innerW - 17}),
    Plot.tickY(yMinorTicks, {y: d => d, stroke: "#000", strokeWidth: 2, insetLeft: innerW - 8}),
    Plot.frame({stroke: "#000", strokeWidth: 2}),
    // tick labels
    Plot.text(xMajorTicks, {x: d => d, text: d => String(d), frameAnchor: "bottom", lineAnchor: "top", dy: 22, fontSize: 24, fill: "#000"}),
    Plot.text(yMajorTicks, {y: d => d, text: (d, i) => yMajorLabels[i], frameAnchor: "left", textAnchor: "end", lineAnchor: "middle", dx: -8.5, dy: 3, fontSize: 24, fill: "#000"})
  ]
});

document.getElementById("chart").appendChild(chart);

// axis titles and in-plot legend
const svg = d3.select(chart);
const xs = chart.scale("x");
const xMid = (xs.apply(5) + xs.apply(16.5)) / 2;

svg.append("text")
  .attr("x", xMid - 1)
  .attr("y", 688)
  .attr("text-anchor", "middle")
  .attr("font-family", FONT).attr("font-size", 23).attr("letter-spacing", "1px")
  .attr("fill", "#000")
  .text("R magnitude");

svg.append("text")
  .attr("transform", `translate(33,${(mT + H - mB) / 2 + 1}) rotate(-90)`)
  .attr("text-anchor", "middle")
  .attr("font-family", FONT).attr("font-size", 26).attr("letter-spacing", "0.7px")
  .attr("fill", "#000")
  .text("Point\u2013to\u2013point RMS");

const legendDash = ["23.3 11.7", "10 6 3 6", "2.5 5.8", null];
const legendLineY = [96.7, 136.5, 175, 211.7];
const legendTextY = [101.5, 140.5, 179.3, 218.3];
const lg = svg.append("g").attr("text-anchor", "start");
legendLabels.forEach((label, i) => {
  const ln = lg.append("line")
    .attr("x1", 211.7).attr("x2", 270)
    .attr("y1", legendLineY[i]).attr("y2", legendLineY[i])
    .attr("stroke", "#000").attr("stroke-width", 3);
  if (legendDash[i]) ln.attr("stroke-dasharray", legendDash[i]);
  lg.append("text")
    .attr("x", 300).attr("y", legendTextY[i])
    .attr("text-anchor", "start")
    .attr("font-family", FONT).attr("font-size", 26).attr("letter-spacing", "0px")
    .attr("fill", "#000")
    .text(label);
});
</script>
</body>
</html>
